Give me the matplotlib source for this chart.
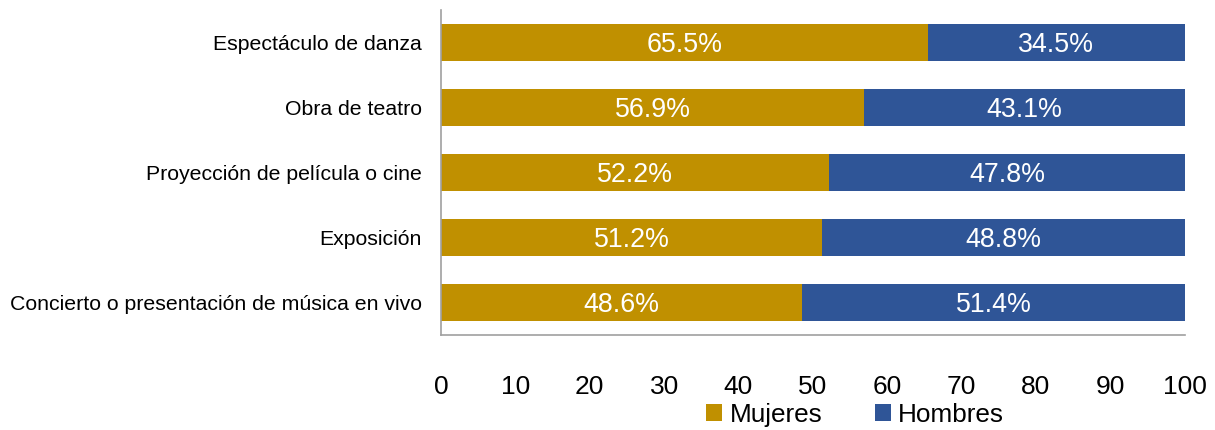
import matplotlib.pyplot as plt

plt.rcParams['font.family'] = ['Liberation Sans', 'DejaVu Sans']

# data (top to bottom as shown)
categories = ["Espectáculo de danza", "Obra de teatro", "Proyección de película o cine",
              "Exposición", "Concierto o presentación de música en vivo"]
mujeres = [65.5, 56.9, 52.2, 51.2, 48.6]
hombres = [34.5, 43.1, 47.8, 48.8, 51.4]

col_m = "#C09000"
col_h = "#2F5597"

fig = plt.figure(figsize=(12.15, 4.3), dpi=100)
ax = fig.add_axes([0.363, 0.221, 0.612, 0.756])

y = list(range(len(categories)))
b1 = ax.barh(y, mujeres, height=0.57, color=col_m, label="Mujeres")
b2 = ax.barh(y, hombres, left=mujeres, height=0.57, color=col_h, label="Hombres")

# value labels centred in each segment
for i in y:
    ax.text(mujeres[i] / 2, i, f"{mujeres[i]:.1f}%", ha="center", va="center_baseline",
            color="white", fontsize=19.3)
    ax.text(mujeres[i] + hombres[i] / 2, i, f"{hombres[i]:.1f}%", ha="center",
            va="center_baseline", color="white", fontsize=19.3)

ax.set_ylim(len(categories) - 0.5, -0.5)
ax.set_xlim(0, 100)
ax.set_xticks(range(0, 101, 10))
ax.set_yticks(y)
ax.set_yticklabels(categories, fontsize=15.3)
ax.tick_params(axis="x", labelsize=19, length=0, pad=29)
ax.tick_params(axis="y", length=0, pad=14)

for s in ["top", "right"]:
    ax.spines[s].set_visible(False)
for s in ["left", "bottom"]:
    ax.spines[s].set_color("#A0A0A0")
    ax.spines[s].set_linewidth(1.2)

fig.legend(handles=[b1, b2], loc="center", bbox_to_anchor=(0.704, 0.035), ncol=2,
           frameon=False, fontsize=18.8, handlelength=0.6, handleheight=0.6,
           handletextpad=0.3, columnspacing=2.0)

fig.savefig("out.png", dpi=100)
